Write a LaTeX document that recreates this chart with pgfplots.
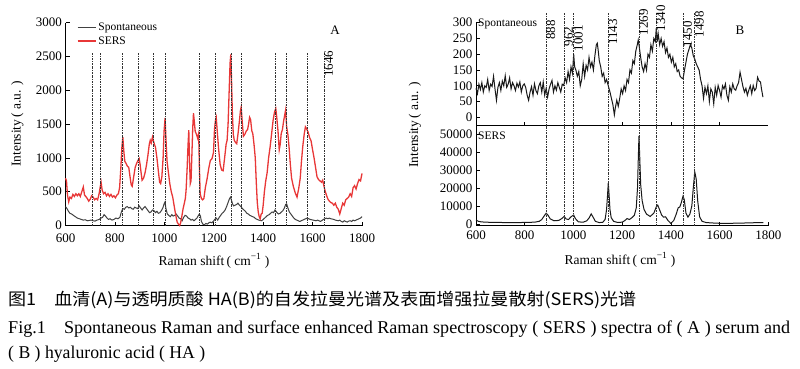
\documentclass[border=0pt]{standalone}
\usepackage{pgfplots}
\pgfplotsset{compat=1.18}
\usepackage{fontspec}
\usepackage{graphicx}
\setmainfont{Liberation Serif}
\newfontfamily\cjk{Noto Sans CJK SC}
\definecolor{sersred}{RGB}{232,55,55}
\definecolor{spongray}{RGB}{65,65,65}
\definecolor{curveblack}{RGB}{25,25,25}
\pgfplotsset{
  myaxis/.style={
    scale only axis,
    axis x line=bottom, axis y line=left,
    axis line style={-, line width=0.8pt},
    tick align=inside,
    major tick length=4pt,
    tick style={line width=0.7pt, black},
    xmin=600, xmax=1800,
    tick label style={font=\fontsize{13}{13}\selectfont},
    /pgf/number format/assume math mode=true,
    /pgf/number format/1000 sep={},
    scaled ticks=false,
    clip=false,
  },
  peakline/.style={line width=0.6pt, black!80, dash pattern=on 2pt off 1pt on 0.6pt off 1pt, forget plot},
}
\begin{document}
\begin{tikzpicture}
\path[use as bounding box] (0pt,0pt) rectangle (800pt,-369pt);

% ---------------- Panel A ----------------
\begin{axis}[myaxis, at={(65.5pt,-225.5pt)}, anchor=south west,
  width=296.5pt, height=202.8pt, ymin=0, ymax=3000,
  ytick={0,500,...,3000}, xtick={600,800,...,1800},
  xticklabel style={yshift=-5pt},
  legend style={at={(0.035,1.015)}, anchor=north west, draw=none, fill=none,
    font=\fontsize{11.5}{11.5}\selectfont, row sep=0.5pt, inner sep=1pt},
  legend cell align=left,
  legend image code/.code={\draw[#1] (0pt,0pt) -- (18pt,0pt);},
]
\addplot[spongray, line width=1pt] coordinates {
(600,280)(606,250)(612,210)(618,180)(625,170)(632,150)(640,130)(648,110)(656,100)(664,90)(672,80)(680,85)(688,70)(696,75)(704,80)(712,70)(720,65)(728,80)(736,90)(744,110)(750,120)(756,160)(762,140)(768,110)(774,90)(780,100)(788,80)(796,90)(804,110)(812,100)(820,120)(826,200)(832,250)(838,240)(844,270)(850,280)(856,260)(862,270)(868,250)(874,240)(880,270)(886,260)(892,250)(898,290)(904,260)(910,230)(916,260)(922,280)(928,250)(934,220)(940,190)(946,200)(952,230)(958,220)(964,190)(970,210)(976,180)(982,190)(988,220)(994,260)(1000,330)(1003,350)(1006,260)(1012,170)(1018,150)(1024,130)(1030,160)(1036,140)(1042,150)(1048,170)(1054,140)(1060,110)(1066,100)(1072,70)(1078,120)(1084,150)(1090,140)(1096,110)(1102,100)(1108,80)(1114,90)(1120,70)(1126,90)(1132,110)(1138,150)(1142,170)(1146,140)(1150,60)(1156,20)(1162,10)(1168,30)(1174,20)(1180,40)(1186,50)(1192,40)(1198,60)(1204,90)(1210,110)(1216,80)(1222,120)(1228,150)(1234,180)(1240,200)(1246,230)(1252,280)(1258,340)(1264,400)(1268,420)(1272,370)(1276,320)(1280,290)(1286,300)(1292,310)(1298,330)(1304,300)(1310,280)(1316,250)(1322,230)(1328,210)(1334,180)(1340,170)(1346,150)(1352,140)(1358,130)(1364,120)(1370,100)(1376,90)(1382,80)(1388,75)(1394,70)(1400,90)(1406,110)(1412,130)(1418,150)(1424,160)(1430,180)(1436,200)(1442,190)(1448,230)(1452,210)(1456,190)(1462,170)(1468,180)(1474,200)(1480,220)(1486,260)(1491,310)(1495,320)(1500,260)(1506,200)(1512,170)(1518,140)(1524,110)(1530,90)(1536,80)(1542,70)(1548,60)(1554,70)(1560,80)(1566,90)(1572,100)(1578,110)(1584,100)(1590,90)(1596,85)(1602,80)(1608,75)(1614,70)(1620,80)(1626,70)(1632,60)(1638,75)(1644,90)(1650,100)(1656,110)(1662,100)(1668,110)(1674,100)(1680,95)(1686,90)(1692,80)(1698,75)(1704,70)(1710,80)(1716,60)(1722,50)(1728,70)(1734,60)(1740,50)(1746,65)(1752,70)(1758,60)(1764,80)(1770,70)(1776,80)(1782,90)(1788,100)(1794,110)(1800,130)
};
\addlegendentry{Spontaneous}
\addplot[sersred, line width=1.3pt] coordinates {
(600,700)(604,660)(608,450)(613,350)(618,420)(624,400)(630,460)(636,430)(642,470)(648,440)(654,470)(660,430)(666,500)(672,570)(677,450)(682,430)(688,400)(694,360)(700,390)(706,440)(712,420)(718,380)(724,400)(730,380)(736,470)(741,580)(744,640)(748,530)(754,470)(760,490)(766,440)(772,470)(778,430)(784,460)(790,420)(796,440)(802,410)(808,450)(814,470)(819,560)(824,850)(828,1150)(832,1310)(836,1100)(840,950)(845,920)(850,880)(856,860)(862,700)(866,600)(870,580)(876,720)(882,860)(888,920)(893,960)(898,990)(902,900)(906,780)(910,670)(916,700)(922,780)(928,900)(934,1050)(939,1200)(943,1260)(947,1220)(952,1310)(956,1250)(960,1200)(964,1160)(970,1000)(976,800)(981,640)(985,620)(990,720)(995,1000)(999,1400)(1003,1590)(1007,1250)(1011,950)(1016,800)(1022,620)(1028,500)(1034,420)(1038,330)(1043,220)(1048,120)(1052,50)(1057,20)(1062,0)(1066,40)(1071,140)(1076,250)(1081,330)(1085,400)(1088,520)(1092,820)(1096,1200)(1099,1410)(1102,950)(1105,620)(1108,660)(1112,1100)(1115,1450)(1118,1660)(1121,1550)(1125,1390)(1130,1350)(1135,1290)(1139,1360)(1142,850)(1145,470)(1150,400)(1155,380)(1160,400)(1166,560)(1173,690)(1180,850)(1186,960)(1193,990)(1199,1080)(1203,1420)(1207,1560)(1210,1600)(1214,1400)(1220,1120)(1226,900)(1232,820)(1238,810)(1244,1000)(1250,1200)(1254,1260)(1258,1500)(1262,1950)(1266,2400)(1269,2530)(1272,2150)(1275,1700)(1279,1350)(1283,1260)(1288,1230)(1293,1210)(1298,1350)(1304,1550)(1308,1700)(1311,1750)(1315,1550)(1320,1320)(1326,1350)(1332,1400)(1337,1420)(1341,1500)(1345,1600)(1349,1570)(1354,1400)(1358,1360)(1363,1200)(1368,1000)(1372,650)(1376,350)(1380,200)(1384,130)(1388,100)(1392,170)(1396,180)(1400,300)(1405,500)(1410,650)(1416,780)(1422,1000)(1428,1160)(1434,1350)(1440,1550)(1446,1680)(1451,1730)(1455,1600)(1460,1400)(1465,1120)(1469,1200)(1473,1360)(1478,1420)(1483,1550)(1488,1650)(1491,1710)(1495,1460)(1500,1350)(1505,1150)(1510,900)(1515,700)(1522,580)(1530,480)(1537,420)(1544,550)(1550,700)(1555,950)(1560,1160)(1566,1350)(1571,1460)(1576,1430)(1582,1380)(1588,1300)(1594,1250)(1600,1120)(1606,1000)(1612,860)(1618,720)(1624,680)(1630,660)(1636,640)(1641,670)(1645,600)(1650,520)(1656,450)(1662,390)(1668,360)(1674,340)(1680,330)(1686,300)(1692,330)(1698,270)(1704,240)(1710,170)(1716,250)(1722,330)(1728,300)(1734,380)(1740,400)(1746,420)(1752,470)(1758,430)(1764,560)(1770,590)(1776,540)(1782,620)(1788,680)(1794,660)(1800,770)
};
\addlegendentry{SERS}
\addplot[peakline] coordinates {(710,0)(710,2550)};
\addplot[peakline] coordinates {(742,0)(742,2550)};
\addplot[peakline] coordinates {(831,0)(831,2550)};
\addplot[peakline] coordinates {(896,0)(896,2550)};
\addplot[peakline] coordinates {(954,0)(954,2550)};
\addplot[peakline] coordinates {(1003,0)(1003,2550)};
\addplot[peakline] coordinates {(1140,0)(1140,2550)};
\addplot[peakline] coordinates {(1208,0)(1208,2550)};
\addplot[peakline] coordinates {(1269,0)(1269,2550)};
\addplot[peakline] coordinates {(1311,0)(1311,2550)};
\addplot[peakline] coordinates {(1450,0)(1450,2550)};
\addplot[peakline] coordinates {(1494,0)(1494,2550)};
\addplot[peakline] coordinates {(1578,0)(1578,2550)};
\addplot[peakline] coordinates {(1646,0)(1646,2550)};
\node[rotate=90, anchor=north east, inner sep=0pt, xshift=4.5pt, font=\fontsize{13}{13}\selectfont] at (axis cs:1646,2522) {1646};
\end{axis}

% ---------------- Panel B top ----------------
\begin{axis}[myaxis, at={(476pt,-125.5pt)}, anchor=south west,
  width=292.3pt, height=102.8pt, ymin=-26, ymax=300,
  ytick={0,50,...,300}, xtick={800,1000,...,1600}, xticklabels={},
]
\addplot[curveblack, line width=1pt] coordinates {
(600,92)(606,75)(612,105)(618,88)(624,110)(630,80)(636,100)(642,95)(648,120)(654,85)(660,105)(666,98)(672,130)(678,90)(684,54)(690,95)(696,110)(702,85)(708,115)(714,100)(720,132)(726,95)(732,105)(738,125)(744,90)(750,110)(756,100)(762,85)(768,108)(774,96)(780,112)(786,80)(792,100)(798,106)(804,95)(810,70)(816,54)(822,80)(828,97)(834,70)(840,106)(846,85)(852,75)(858,100)(864,110)(870,80)(876,112)(882,70)(888,92)(894,64)(900,90)(906,105)(912,117)(918,80)(924,100)(930,86)(936,110)(942,95)(948,80)(954,105)(960,101)(966,125)(972,110)(978,145)(984,120)(990,160)(996,140)(1001,200)(1005,160)(1010,150)(1016,130)(1022,145)(1028,100)(1034,120)(1040,170)(1046,130)(1052,165)(1058,150)(1064,190)(1070,160)(1076,175)(1082,150)(1088,195)(1094,230)(1098,235)(1102,210)(1106,180)(1112,160)(1118,130)(1124,140)(1130,110)(1136,120)(1143,100)(1150,80)(1156,60)(1162,40)(1168,8)(1172,30)(1178,54)(1184,35)(1190,60)(1196,90)(1202,75)(1208,100)(1214,85)(1220,120)(1226,110)(1232,150)(1238,140)(1244,180)(1250,170)(1256,210)(1262,230)(1266,245)(1270,225)(1276,190)(1282,160)(1288,145)(1294,170)(1300,150)(1306,200)(1312,190)(1318,230)(1324,210)(1330,250)(1336,240)(1340,282)(1344,240)(1348,265)(1354,230)(1360,250)(1366,225)(1372,240)(1378,205)(1384,220)(1390,190)(1396,200)(1402,175)(1408,190)(1414,160)(1420,170)(1426,145)(1432,150)(1438,130)(1444,125)(1450,122)(1456,150)(1462,175)(1468,200)(1474,215)(1480,230)(1486,220)(1492,195)(1498,185)(1504,170)(1510,160)(1516,150)(1522,120)(1528,100)(1534,60)(1540,95)(1546,75)(1552,100)(1558,50)(1564,90)(1570,80)(1576,43)(1582,95)(1588,70)(1594,101)(1600,85)(1606,64)(1612,100)(1618,90)(1624,106)(1630,70)(1636,54)(1642,97)(1648,80)(1654,106)(1660,90)(1666,86)(1672,100)(1678,110)(1684,143)(1690,120)(1696,97)(1702,80)(1708,92)(1714,70)(1720,86)(1726,100)(1732,75)(1738,101)(1744,85)(1750,92)(1756,127)(1762,115)(1768,112)(1772,90)(1778,64)
};
\addplot[peakline] coordinates {(888,-26)(888,331)};
\addplot[peakline] coordinates {(962,-26)(962,331)};
\addplot[peakline] coordinates {(1001,-26)(1001,331)};
\addplot[peakline] coordinates {(1143,-26)(1143,331)};
\addplot[peakline] coordinates {(1269,-26)(1269,331)};
\addplot[peakline] coordinates {(1340,-26)(1340,331)};
\addplot[peakline] coordinates {(1450,-26)(1450,331)};
\addplot[peakline] coordinates {(1498,-26)(1498,331)};
\begin{scope}[every node/.style={rotate=90, anchor=north east, inner sep=0pt, font=\fontsize{13}{13}\selectfont}]
\node[xshift=7pt] at (axis cs:888,286) {888};
\node[xshift=1.5pt] at (axis cs:962,283) {962};
\node[xshift=8pt] at (axis cs:1001,267) {1001};
\node[xshift=6pt] at (axis cs:1143,293) {1143};
\node[xshift=6pt] at (axis cs:1269,324) {1269};
\node[xshift=5pt] at (axis cs:1340,340) {1340};
\node[xshift=2pt] at (axis cs:1450,299) {1450};
\node[xshift=2pt] at (axis cs:1498,331) {1498};
\end{scope}
\end{axis}

% ---------------- Panel B bottom ----------------
\begin{axis}[myaxis, at={(476pt,-225.8pt)}, anchor=south west,
  width=292.3pt, height=100.3pt, ymin=-1000, ymax=54700,
  ytick={0,10000,...,50000}, xtick={600,800,...,1800},
  xticklabel style={yshift=-2pt},
]
\addplot[curveblack, line width=1pt] coordinates {
(600,2200)(610,1500)(620,1200)(640,1000)(680,900)(720,800)(760,700)(800,900)(840,1000)(860,1500)(870,2500)(880,4500)(888,6000)(895,5000)(905,2800)(920,1800)(940,2000)(952,3000)(962,4200)(970,2800)(980,2500)(990,4000)(1001,5000)(1008,3000)(1020,1200)(1040,1000)(1055,1800)(1065,3500)(1073,5600)(1080,4000)(1090,1500)(1105,800)(1120,900)(1130,2500)(1136,8000)(1140,16000)(1143,22800)(1146,17000)(1150,8000)(1155,3500)(1165,1500)(1180,900)(1200,1000)(1210,1800)(1220,3000)(1230,2500)(1240,3500)(1250,4800)(1258,9000)(1263,20000)(1266,35000)(1269,49000)(1272,38000)(1276,22000)(1282,13000)(1290,8000)(1300,5500)(1315,4200)(1330,6000)(1340,9500)(1346,10500)(1352,8500)(1362,5000)(1370,3800)(1378,4000)(1388,2000)(1400,300)(1412,2000)(1422,5500)(1430,9000)(1437,9500)(1443,12000)(1450,15500)(1455,13500)(1462,6000)(1470,3800)(1478,5500)(1486,10000)(1492,20000)(1498,29000)(1504,25000)(1510,13000)(1518,4000)(1528,1500)(1545,800)(1580,500)(1620,300)(1680,500)(1720,600)(1760,800)(1780,700)
};
\addplot[peakline] coordinates {(888,-1000)(888,54700)};
\addplot[peakline] coordinates {(962,-1000)(962,54700)};
\addplot[peakline] coordinates {(1001,-1000)(1001,54700)};
\addplot[peakline] coordinates {(1143,-1000)(1143,54700)};
\addplot[peakline] coordinates {(1269,-1000)(1269,54700)};
\addplot[peakline] coordinates {(1340,-1000)(1340,54700)};
\addplot[peakline] coordinates {(1450,-1000)(1450,54700)};
\addplot[peakline] coordinates {(1498,-1000)(1498,54700)};
\end{axis}

% ---------------- Texts ----------------
\node[font=\fontsize{13}{13}\selectfont] at (335pt,-30pt) {A};
\node[font=\fontsize{13}{13}\selectfont] at (740pt,-30pt) {B};
\node[anchor=north west, inner sep=0pt, font=\fontsize{11.5}{11.5}\selectfont] at (478pt,-19pt) {Spontaneous};
\node[anchor=north west, inner sep=0pt, font=\fontsize{11.5}{11.5}\selectfont] at (478pt,-132pt) {SERS};
\node[rotate=90, font=\fontsize{13.5}{13.5}\selectfont] at (17.5pt,-124pt) {Intensity\,( a.u. )};
\node[rotate=90, font=\fontsize{13.5}{13.5}\selectfont] at (415pt,-125pt) {Intensity\,( a.u. )};
\node[anchor=base, font=\fontsize{13.5}{13.5}\selectfont] at (214pt,-265pt) {Raman shift\,( cm\textsuperscript{−1} )};
\node[anchor=base, font=\fontsize{13.5}{13.5}\selectfont] at (620pt,-264pt) {Raman shift\,( cm\textsuperscript{−1} )};

\node[anchor=base west, inner sep=0pt] at (8pt,-305pt) {\resizebox{628pt}{\height}{\cjk\fontsize{17}{17}\selectfont 图1\quad 血清(A)与透明质酸 HA(B)的自发拉曼光谱及表面增强拉曼散射(SERS)光谱}};
\node[anchor=base west, inner sep=0pt] at (8pt,-333pt) {\resizebox{782pt}{\height}{\fontsize{18}{18}\selectfont Fig.1\quad Spontaneous Raman and surface enhanced Raman spectroscopy ( SERS ) spectra of ( A ) serum and}};
\node[anchor=base west, inner sep=0pt] at (8pt,-358pt) {\resizebox{197pt}{\height}{\fontsize{18}{18}\selectfont ( B ) hyaluronic acid ( HA )}};
\end{tikzpicture}
\end{document}
